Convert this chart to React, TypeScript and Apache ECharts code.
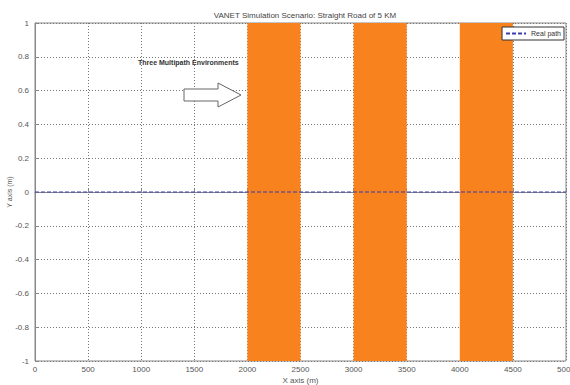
import React, { useEffect, useRef } from "react";
import * as echarts from "echarts";

const pathX = [0, 1000, 2000, 3000, 4000, 5000];
const pathY = [0, 0, 0, 0, 0, 0];
const zoneStarts = [2000, 3000, 4000];
const zoneEnds = [2500, 3500, 4500];
const title = "VANET Simulation Scenario: Straight Road of 5 KM";
const annotation = "Three Multipath Environments";
const seriesName = "Real path";

export default function App() {
  const ref = useRef<HTMLDivElement>(null);
  useEffect(() => {
    const chart = echarts.init(ref.current!, null, { renderer: "svg" });
    const font = "Liberation Sans";
    const axisText = { color: "#555", fontSize: 8, fontFamily: font };
    const split = { show: true, lineStyle: { type: [1, 2] as any, color: "#777", width: 1 } };
    chart.setOption({
      animation: false,
      backgroundColor: "#fff",
      title: {
        text: title,
        left: 300,
        textAlign: "center",
        top: 6,
        textStyle: { fontSize: 8, fontWeight: "normal", color: "#444", fontFamily: font },
      },
      grid: {
        left: 35,
        right: 4,
        top: 23,
        bottom: 24,
        show: true,
        borderColor: "#888",
        borderWidth: 1,
        containLabel: false,
        outerBoundsMode: "none",
      } as any,
      legend: {
        right: 6,
        top: 27,
        data: [seriesName],
        itemWidth: 20,
        itemHeight: 6,
        itemGap: 4,
        padding: [3, 3, 3, 3],
        borderColor: "#333",
        borderWidth: 1,
        backgroundColor: "#fff",
        itemStyle: { opacity: 0 },
        textStyle: { fontSize: 7, color: "#333", fontFamily: font },
      },
      xAxis: {
        type: "value",
        min: 0,
        max: 5000,
        interval: 500,
        name: "X axis (m)",
        nameLocation: "middle",
        nameGap: 15,
        nameMoveOverlap: false,
        nameTextStyle: { color: "#555", fontSize: 8, fontFamily: font },
        axisLine: { show: true, lineStyle: { color: "#888" } },
        axisTick: { show: true, inside: true, length: 3, lineStyle: { color: "#888" } },
        axisLabel: { ...axisText, margin: 4, formatter: (v: number) => String(v) },
        splitLine: split,
      } as any,
      yAxis: {
        type: "value",
        min: -1,
        max: 1,
        interval: 0.2,
        name: "Y axis (m)",
        nameLocation: "middle",
        nameGap: 22,
        nameMoveOverlap: false,
        nameTextStyle: { color: "#555", fontSize: 7, fontFamily: font },
        axisLine: { show: true, lineStyle: { color: "#888" } },
        axisTick: { show: true, inside: true, length: 3, lineStyle: { color: "#888" } },
        axisLabel: {
          ...axisText,
          margin: 6,
          formatter: (v: number) => {
            const r = Math.round(v * 10) / 10;
            return r === 0 ? "0" : String(r);
          },
        },
        splitLine: split,
      } as any,
      series: [
        {
          name: seriesName,
          type: "line",
          data: pathX.map((x, i) => [x, pathY[i]]),
          symbol: "none",
          lineStyle: { color: "#3b3bb0", type: [4, 2] as any, width: 1.2 },
          itemStyle: { color: "#3b3bb0" },
          z: 5,
          markArea: {
            silent: true,
            itemStyle: { color: "#F7821E", opacity: 1 },
            data: zoneStarts.map((s, i) => [{ xAxis: s }, { xAxis: zoneEnds[i] }]),
          },
        },
      ],
      graphic: [
        {
          type: "text",
          left: 138,
          top: 59,
          style: { text: annotation, fontSize: 7, fontWeight: "bold", fill: "#333", fontFamily: font },
        },
        {
          type: "polygon",
          shape: {
            points: [
              [184, 89],
              [218, 89],
              [218, 83],
              [241, 95],
              [218, 107],
              [218, 101],
              [184, 101],
            ],
          },
          style: { fill: "#fff", stroke: "#666", lineWidth: 1 },
          z: 10,
        },
      ],
    });
    return () => chart.dispose();
  }, []);
  return <div ref={ref} style={{ width: 570, height: 385, position: "absolute", left: 0, top: 0 }} />;
}
